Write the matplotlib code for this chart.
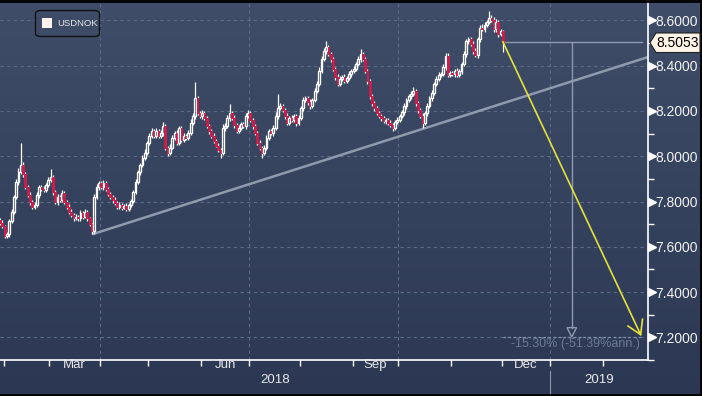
import numpy as np
import pandas as pd
import matplotlib
matplotlib.use("Agg")
import matplotlib.pyplot as plt
from matplotlib.patches import Polygon, FancyBboxPatch, Rectangle
from matplotlib.transforms import blended_transform_factory
from matplotlib.lines import Line2D

plt.rcParams['font.family'] = ['Liberation Sans', 'DejaVu Sans']

# ---------------- data ----------------
series_name = "USDNOK"
start_date = "2018-01-30"
first_open = 7.720
close = [
    7.707, 7.690, 7.647, 7.655, 7.712, 7.755, 7.820, 7.886, 7.929, 7.960,
    7.920, 7.864, 7.829, 7.799, 7.777, 7.786, 7.829, 7.864, 7.855, 7.851,
    7.873, 7.894, 7.907, 7.842, 7.799, 7.820, 7.807, 7.838, 7.799, 7.777,
    7.755, 7.742, 7.725, 7.733, 7.725, 7.751, 7.733, 7.755, 7.725, 7.699,
    7.668, 7.820, 7.864, 7.881, 7.864, 7.881, 7.855, 7.833, 7.820, 7.807,
    7.794, 7.777, 7.786, 7.773, 7.781, 7.768, 7.786, 7.803, 7.842, 7.886,
    7.929, 7.960, 7.994, 8.016, 8.060, 8.090, 8.112, 8.090, 8.112, 8.090,
    8.103, 8.133, 8.038, 8.016, 8.038, 8.081, 8.103, 8.060, 8.125, 8.073,
    8.090, 8.081, 8.103, 8.147, 8.177, 8.255, 8.190, 8.177, 8.190, 8.168,
    8.133, 8.112, 8.090, 8.068, 8.047, 8.029, 8.016, 8.125, 8.133, 8.168,
    8.190, 8.168, 8.138, 8.112, 8.125, 8.142, 8.133, 8.177, 8.190, 8.160,
    8.133, 8.103, 8.060, 8.038, 8.016, 8.038, 8.081, 8.112, 8.103, 8.125,
    8.177, 8.212, 8.220, 8.203, 8.177, 8.147, 8.168, 8.160, 8.177, 8.147,
    8.168, 8.212, 8.247, 8.255, 8.238, 8.220, 8.247, 8.290, 8.320, 8.377,
    8.429, 8.464, 8.481, 8.451, 8.429, 8.386, 8.351, 8.320, 8.342, 8.351,
    8.333, 8.347, 8.364, 8.377, 8.386, 8.407, 8.429, 8.451, 8.429, 8.377,
    8.333, 8.264, 8.233, 8.212, 8.190, 8.177, 8.168, 8.155, 8.160, 8.147,
    8.138, 8.125, 8.151, 8.160, 8.177, 8.194, 8.220, 8.247, 8.264, 8.277,
    8.290, 8.233, 8.203, 8.177, 8.147, 8.190, 8.220, 8.255, 8.281, 8.320,
    8.342, 8.360, 8.364, 8.394, 8.442, 8.360, 8.368, 8.364, 8.377, 8.360,
    8.377, 8.407, 8.451, 8.507, 8.516, 8.494, 8.464, 8.447, 8.516, 8.568,
    8.560, 8.581, 8.594, 8.612, 8.603, 8.560, 8.594, 8.538, 8.551, 8.5053,
]
# wick lengths above / below the body, in thousandths
upper_wick = [
    8, 12, 6, 10, 9, 14, 10, 12, 20, 100, 15, 10, 8, 12, 9, 11, 14, 10, 8, 12,
    9, 15, 35, 10, 8, 12, 10, 14, 9, 8, 10, 12, 7, 11, 9, 13, 8, 10, 9, 8,
    7, 15, 12, 10, 9, 14, 8, 10, 7, 9, 11, 8, 10, 7, 9, 12, 8, 10, 9, 14,
    12, 10, 11, 15, 9, 12, 14, 10, 13, 9, 12, 16, 10, 8, 14, 11, 9, 15, 10, 8,
    12, 10, 14, 16, 12, 74, 10, 9, 14, 11, 8, 10, 9, 12, 8, 10, 9, 18, 12, 15,
    39, 10, 12, 9, 14, 11, 10, 16, 12, 9, 8, 11, 9, 10, 8, 12, 14, 10, 9, 11,
    18, 65, 14, 10, 9, 12, 10, 13, 11, 9, 12, 10, 14, 9, 12, 15, 10, 13, 11, 16,
    12, 14, 26, 10, 9, 11, 8, 10, 12, 9, 10, 8, 11, 9, 12, 10, 14, 22, 10, 9,
    8, 10, 12, 9, 11, 10, 9, 8, 10, 9, 12, 8, 11, 13, 10, 12, 14, 11, 9, 10,
    17, 9, 11, 8, 12, 10, 14, 12, 10, 9, 11, 12, 10, 14, 13, 16, 9, 10, 8, 11,
    9, 10, 14, 12, 9, 11, 13, 14, 10, 12, 18, 10, 9, 30, 11, 10, 13, 9, 12, 8,
]
lower_wick = [
    10, 8, 9, 7, 12, 8, 10, 9, 11, 8, 12, 10, 9, 14, 8, 10, 9, 12, 8, 10,
    11, 9, 8, 12, 10, 14, 9, 11, 8, 10, 12, 9, 13, 8, 10, 9, 12, 8, 10, 9,
    13, 10, 8, 12, 9, 11, 8, 10, 9, 12, 8, 10, 9, 11, 8, 10, 12, 9, 8, 10,
    9, 11, 8, 10, 12, 9, 10, 8, 11, 9, 10, 12, 9, 14, 10, 8, 11, 9, 10, 12,
    9, 10, 8, 11, 9, 12, 10, 9, 11, 8, 10, 12, 9, 11, 8, 10, 22, 9, 12, 10,
    11, 9, 12, 10, 8, 11, 9, 12, 10, 9, 11, 8, 12, 10, 22, 9, 11, 10, 8, 12,
    9, 11, 10, 8, 12, 9, 11, 10, 9, 12, 8, 10, 11, 9, 10, 12, 9, 8, 11, 10,
    9, 10, 12, 8, 11, 9, 13, 10, 9, 8, 11, 10, 9, 12, 8, 10, 9, 11, 10, 9,
    12, 10, 9, 11, 8, 10, 12, 9, 11, 10, 9, 13, 10, 8, 11, 9, 10, 12, 9, 11,
    10, 9, 12, 8, 22, 10, 11, 9, 10, 12, 9, 11, 10, 8, 12, 9, 10, 11, 13, 9,
    10, 12, 9, 11, 10, 8, 12, 9, 11, 10, 9, 12, 10, 11, 9, 12, 10, 11, 9, 45,
]

y_ticks = [7.2, 7.4, 7.6, 7.8, 8.0, 8.2, 8.4, 8.6]
month_labels = {"2018-03": "Mar", "2018-06": "Jun", "2018-09": "Sep", "2018-12": "Dec"}
year_labels = ["2018", "2019"]
last_value = 8.5053
target_value = 7.2
change_text = "-15.30% (-51.39%ann.)"
measure_date = "2019-01-14"
projection_end_date = "2019-02-25"
trend_start_index = 40
trend_start_price = 7.655
trend_end_price = 8.438
axis_end_date = "2019-03-01"

# ---------------- derived ----------------
n = len(close)
opens = [first_open] + close[:-1]
highs = [max(o, c) + u / 1000 for o, c, u in zip(opens, close, upper_wick)]
lows = [min(o, c) - l / 1000 for o, c, l in zip(opens, close, lower_wick)]

cal = pd.bdate_range(start_date, axis_end_date)
def pos(d):
    return cal.get_loc(pd.Timestamp(d))

W, H = 702, 396
fig = plt.figure(figsize=(W / 100, H / 100), dpi=100)

# background gradient
bg = fig.add_axes([0, 0, 1, 1], zorder=-10)
grad = np.linspace(0, 1, 256).reshape(-1, 1)
top_c = np.array([63, 77, 105]) / 255
bot_c = np.array([44, 56, 83]) / 255
img = top_c[None, None, :] * (1 - grad[:, :, None]) + bot_c[None, None, :] * grad[:, :, None]
bg.imshow(img, aspect='auto', extent=[0, 1, 0, 1], origin='upper')
bg.set_axis_off()

ax_right_px, ax_bottom_px = 648, 360
ax = fig.add_axes([0, 1 - ax_bottom_px / H, ax_right_px / W, ax_bottom_px / H])
ax.patch.set_alpha(0)
ylo, yhi = 8.690 - ax_bottom_px / 230, 8.690
ax.set_ylim(ylo, yhi)
ax.set_xlim(-0.05, pos(axis_end_date) - 0.8)
xr = ax.get_xlim()[1]

grid_c = '#5b6a86'
for yt in y_ticks:
    ax.axhline(yt, color=grid_c, lw=0.8, ls=(0, (3, 3)), zorder=1)
quarter_bounds = [pos(d) - 0.5 for d in ["2018-04-02", "2018-07-02", "2018-10-01", "2019-01-01"]]
for qb in quarter_bounds:
    ax.axvline(qb, color=grid_c, lw=0.8, ls=(0, (3, 3)), zorder=1)

# trendline
ax.plot([trend_start_index, xr], [trend_start_price, trend_end_price],
        color='#8f9aae', lw=1.8, zorder=2, solid_capstyle='butt')

# candles
red = '#c4204b'
body_w = 0.8
for i in range(n):
    o, c, h, l = opens[i], close[i], highs[i], lows[i]
    top, bot = max(o, c), min(o, c)
    if top - bot < 0.002:
        top = bot + 0.002
    ax.vlines(i, top, h, color='white', lw=0.9, zorder=3)
    ax.vlines(i, l, bot, color='white', lw=0.9, zorder=3)
    if c >= o:
        ax.add_patch(Rectangle((i - body_w / 2, bot), body_w, top - bot, facecolor='none',
                               edgecolor='white', lw=0.95, zorder=4))
    else:
        ax.add_patch(Rectangle((i - body_w / 2, bot), body_w, top - bot, facecolor=red,
                               edgecolor=red, lw=0.8, zorder=4))

# measurement lines
last_i = n - 1
ax.plot([last_i, xr - 2.6], [last_value, last_value], color='#8f9ab0', lw=1.0, zorder=2)
ax.plot([last_i, pos(projection_end_date) + 0.6], [target_value, target_value],
        color='#8290a8', lw=0.9, ls=(0, (2, 2)), zorder=2)
mx = pos(measure_date)
tri_h = 0.043
ax.plot([mx, mx], [last_value, target_value + tri_h], color='#8f9ab0', lw=1.0, zorder=2)
ax.add_patch(Polygon([[mx - 2.1, target_value + tri_h], [mx + 2.1, target_value + tri_h],
                      [mx, target_value + 0.002]], closed=True, facecolor='none',
                     edgecolor='#8f9ab0', lw=1.0, zorder=2))
ax.text(pos(projection_end_date) - 0.2, target_value - 0.005, change_text, color='#6d7a93',
        fontsize=9, ha='right', va='top', zorder=2)

# yellow projection arrow
yel = '#e3e23c'
pe = pos(projection_end_date)
ax.plot([last_i, pe], [last_value, target_value + 0.012], color=yel, lw=1.2, zorder=5)
ax.plot([pe - 5.5, pe, pe + 0.8], [target_value + 0.05, target_value + 0.012, target_value + 0.08],
        color=yel, lw=1.2, zorder=5)

# axes styling
for s in ['top', 'left']:
    ax.spines[s].set_visible(False)
ax.spines['right'].set_color('white')
ax.spines['bottom'].set_color('white')
ax.spines['right'].set_linewidth(1.2)
ax.spines['bottom'].set_linewidth(1.2)

ax.yaxis.tick_right()
ax.set_yticks(y_ticks)
ax.set_yticklabels([f"{v:.4f}" for v in y_ticks])
ax.set_yticks([v + 0.1 for v in y_ticks if v + 0.1 < yhi] + [7.2 - 0.1 + 0.0], minor=True)
ax.tick_params(axis='y', which='major', length=0, pad=5.5, labelsize=10, labelcolor='#f2f2f2')
ax.tick_params(axis='y', which='minor', length=4, width=1, color='white', direction='out')
tr = blended_transform_factory(ax.transAxes, ax.transData)
ax.plot([1 + 3.5 / ax_right_px] * len(y_ticks), y_ticks, ls='none', marker='>', markersize=5.5,
        color='white', transform=tr, clip_on=False)

month_bounds = [pos(d) - 0.5 for d in pd.date_range("2018-02-01", "2019-02-01", freq="MS")
                .map(lambda t: cal[cal >= t][0])]
ax.set_xticks(month_bounds, minor=True)
ax.set_xticks([])
ax.tick_params(axis='x', which='minor', length=4, width=1, color='white', direction='out')

for m, lab in month_labels.items():
    ms = pd.Timestamp(m + "-01")
    me = ms + pd.offsets.MonthBegin(1)
    a = pos(cal[cal >= ms][0]) - 0.5
    b = pos(cal[cal >= me][0]) - 0.5
    ax.text((a + b) / 2, ylo - 11 / 230, lab, ha='center', va='center',
            fontsize=9.5, color='#e8e8e8', clip_on=False)
year_split = quarter_bounds[-1]
ax.text((ax.get_xlim()[0] + year_split) / 2, ylo - 26 / 230, year_labels[0], ha='center',
        va='center', fontsize=9.5, color='#e8e8e8', clip_on=False)
ax.text((year_split + xr) / 2, ylo - 26 / 230, year_labels[1], ha='center',
        va='center', fontsize=9.5, color='#e8e8e8', clip_on=False)
ax.plot([year_split, year_split], [ylo - 17 / 230, ylo - 40 / 230], color='#8a95a8', lw=0.8,
        clip_on=False)

# last value callout
def fp(x, y):
    return (x / W, 1 - y / H)
callout = Polygon([fp(650, 42.7), fp(656, 33), fp(700, 33), fp(700, 52.5), fp(656, 52.5)],
                  closed=True, transform=fig.transFigure, facecolor='#fff4e6',
                  edgecolor='#222222', lw=0.8, zorder=10)
fig.add_artist(callout)
fig.text(678 / W, 1 - 43 / H, f"{last_value:.4f}", ha='center', va='center', fontsize=10,
         color='black', zorder=11)

# legend
leg = FancyBboxPatch((35.5 / W, 1 - 36.5 / H), 64 / W, 26 / H,
                     boxstyle="round,pad=0,rounding_size=0.008", transform=fig.transFigure,
                     facecolor='#3d4b67', edgecolor='#111111', lw=1.0, zorder=10)
fig.add_artist(leg)
fig.add_artist(Rectangle((42 / W, 1 - 28 / H), 10 / W, 9.5 / H, transform=fig.transFigure,
                         facecolor='#fff2ec', edgecolor='none', zorder=11))
fig.text(57 / W, 1 - 24 / H, series_name, ha='left', va='center', fontsize=6.8,
         color='#e6e6e6', zorder=11)

# figure border (top, right, bottom)
fig.add_artist(Line2D([0, 1], [1 - 0.5 / H, 1 - 0.5 / H], transform=fig.transFigure, color='black', lw=2))
fig.add_artist(Line2D([1 - 1 / W, 1 - 1 / W], [0, 1], transform=fig.transFigure, color='black', lw=2))
fig.add_artist(Line2D([0, 1], [1.5 / H, 1.5 / H], transform=fig.transFigure, color='black', lw=2))

fig.savefig("out.png", dpi=100)
